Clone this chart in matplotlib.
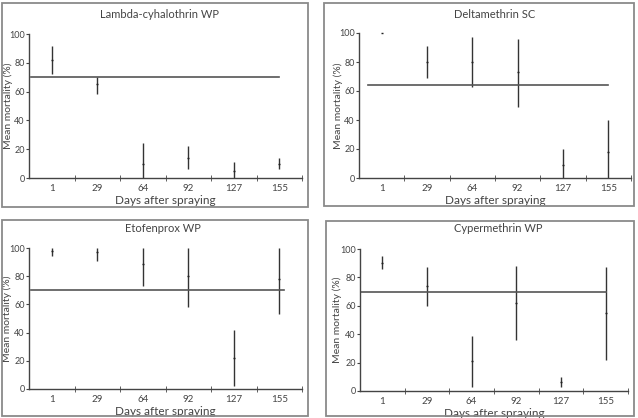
import numpy as np
import matplotlib.pyplot as plt
from matplotlib.patches import Rectangle

plt.rcParams['font.family'] = ['Lato', 'DejaVu Sans']

days = ['1', '29', '64', '92', '127', '155']

titles = ['Lambda-cyhalothrin WP', 'Deltamethrin SC', 'Etofenprox WP', 'Cypermethrin WP']

# mean mortality and lower/upper ends of the bars
lambda_mean = [82, 65, 10, 14, 5, 10]
lambda_lo = [72, 58, 0, 6, 0, 6]
lambda_hi = [92, 70, 24, 22, 11, 14]

delta_mean = [100, 80, 80, 73, 9, 18]
delta_lo = [100, 69, 63, 49, 0, 0]
delta_hi = [100, 91, 97, 96, 20, 40]

etof_mean = [98, 97, 89, 80, 22, 78]
etof_lo = [94, 91, 73, 58, 2, 53]
etof_hi = [100, 100, 100, 100, 42, 100]

cyper_mean = [90, 74, 21, 62, 6, 55]
cyper_lo = [86, 60, 3, 36, 3, 22]
cyper_hi = [95, 87, 39, 88, 10, 87]

# reference line (%) and its start/end along the x axis
ref_level = [70, 64, 70, 70]
ref_start = [0.55, 0.7, 0.55, 0.5]
ref_end = [6.0, 6.0, 6.1, 6.0]

means = [lambda_mean, delta_mean, etof_mean, cyper_mean]
lows = [lambda_lo, delta_lo, etof_lo, cyper_lo]
highs = [lambda_hi, delta_hi, etof_hi, cyper_hi]

W, H = 638, 418
fig = plt.figure(figsize=(W / 100, H / 100), dpi=100)

# axes rectangles in pixels: x0, x1, y0(value 0), y100
ax_px = [(29, 302, 178, 34), (359, 631, 178, 33), (29, 302, 389, 248), (360, 628, 391, 249)]
box_px = [(2, 308, 3, 207), (324, 634, 3, 206), (2, 308, 220, 416), (326, 634, 221, 416)]
title_px = [(160, 15), (495, 15), (163, 229), (498, 229)]
ylab_x = [13, 343, 12, 342]  # right edge of the rotated y label

txt = '#444444'
for i in range(4):
    x0, x1, y0, y1 = ax_px[i]
    ax = fig.add_axes([x0 / W, 1 - y0 / H, (x1 - x0) / W, (y0 - y1) / H])
    x = np.arange(1, 7)
    m = np.array(means[i])
    lo = m - np.array(lows[i])
    hi = np.array(highs[i]) - m
    ax.errorbar(x, m, yerr=[lo, hi], fmt='_', color='#222222', ms=2, mew=1,
                ecolor='#333333', elinewidth=1.0, capsize=0, clip_on=False)
    ax.plot([ref_start[i], ref_end[i]], [ref_level[i]] * 2, color='#555555', lw=1.2)
    ax.set_xlim(0.5, 6.5)
    ax.set_ylim(0, 100)
    ax.set_xticks(x)
    ax.set_xticklabels(days)
    ax.set_xticks(np.arange(1.5, 7, 1), minor=True)
    ax.tick_params(axis='x', which='major', length=0, labelsize=7, colors=txt, pad=4)
    ax.tick_params(axis='x', which='minor', length=4, direction='inout', color='#444444')
    ax.set_yticks([0, 20, 40, 60, 80, 100])
    ax.tick_params(axis='y', length=2.5, direction='out', labelsize=6.5, colors=txt, pad=0.5)
    for s in ['top', 'right']:
        ax.spines[s].set_visible(False)
    for s in ['left', 'bottom']:
        ax.spines[s].set_color('#444444')
        ax.spines[s].set_linewidth(1)
    ax.set_xlabel('Days after spraying', fontsize=8.5, color=txt, labelpad=2)
    ax.set_ylabel('Mean mortality (%)', fontsize=7.5, color=txt)
    ax.yaxis.set_label_coords((ylab_x[i] - x0) / (x1 - x0), 0.5)

    bx0, bx1, by0, by1 = box_px[i]
    fig.add_artist(Rectangle((bx0 / W, 1 - by1 / H), (bx1 - bx0) / W, (by1 - by0) / H,
                             transform=fig.transFigure, fill=False, ec='#8a8a8a', lw=1.3))
    tx, ty = title_px[i]
    fig.text(tx / W, 1 - ty / H, titles[i], ha='center', va='center', fontsize=8, color=txt)

fig.savefig('out.png', dpi=100)
